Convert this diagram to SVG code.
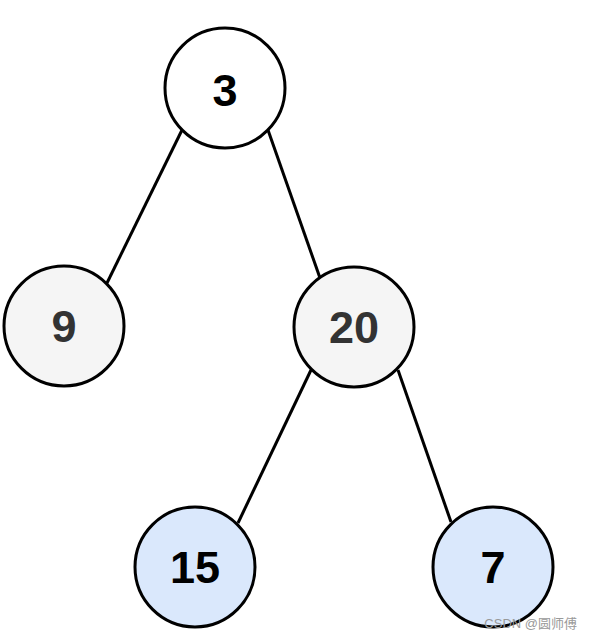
<svg xmlns="http://www.w3.org/2000/svg" width="592" height="640" viewBox="0 0 592 640">
<style>
.n{stroke:#000;stroke-width:3}
.t{font-family:"Liberation Sans",Arial,sans-serif;font-weight:bold;font-size:45px;text-anchor:middle}
.e{stroke:#000;stroke-width:3;fill:none}
</style>
<rect width="592" height="640" fill="#fff"/>
<g id="connectors">
<line class="e" x1="182" y1="130" x2="107" y2="283"/>
<line class="e" x1="268" y1="130" x2="320" y2="278"/>
<line class="e" x1="311" y1="370" x2="238" y2="523"/>
<line class="e" x1="398" y1="370" x2="451" y2="522"/>
</g>
<g id="node3"><circle class="n" cx="225" cy="88" r="60" fill="#fff"/><text class="t" x="225" y="106" fill="#000">3</text></g>
<g id="node9"><circle class="n" cx="64" cy="326" r="60" fill="#f5f5f5"/><text class="t" x="64" y="342" fill="#333">9</text></g>
<g id="node20"><circle class="n" cx="354" cy="327" r="60" fill="#f5f5f5"/><text class="t" x="354" y="343" fill="#333">20</text></g>
<g id="node15"><circle class="n" cx="195" cy="567" r="60" fill="#dae8fc"/><text class="t" x="195" y="583" fill="#000">15</text></g>
<g id="node7"><circle class="n" cx="493" cy="567" r="60" fill="#dae8fc"/><text class="t" x="493" y="583" fill="#000">7</text></g>
<text x="577" y="628" text-anchor="end" font-family="'Liberation Sans','Noto Sans CJK SC',sans-serif" font-size="13" fill="#999">CSDN @圆师傅</text>
</svg>
